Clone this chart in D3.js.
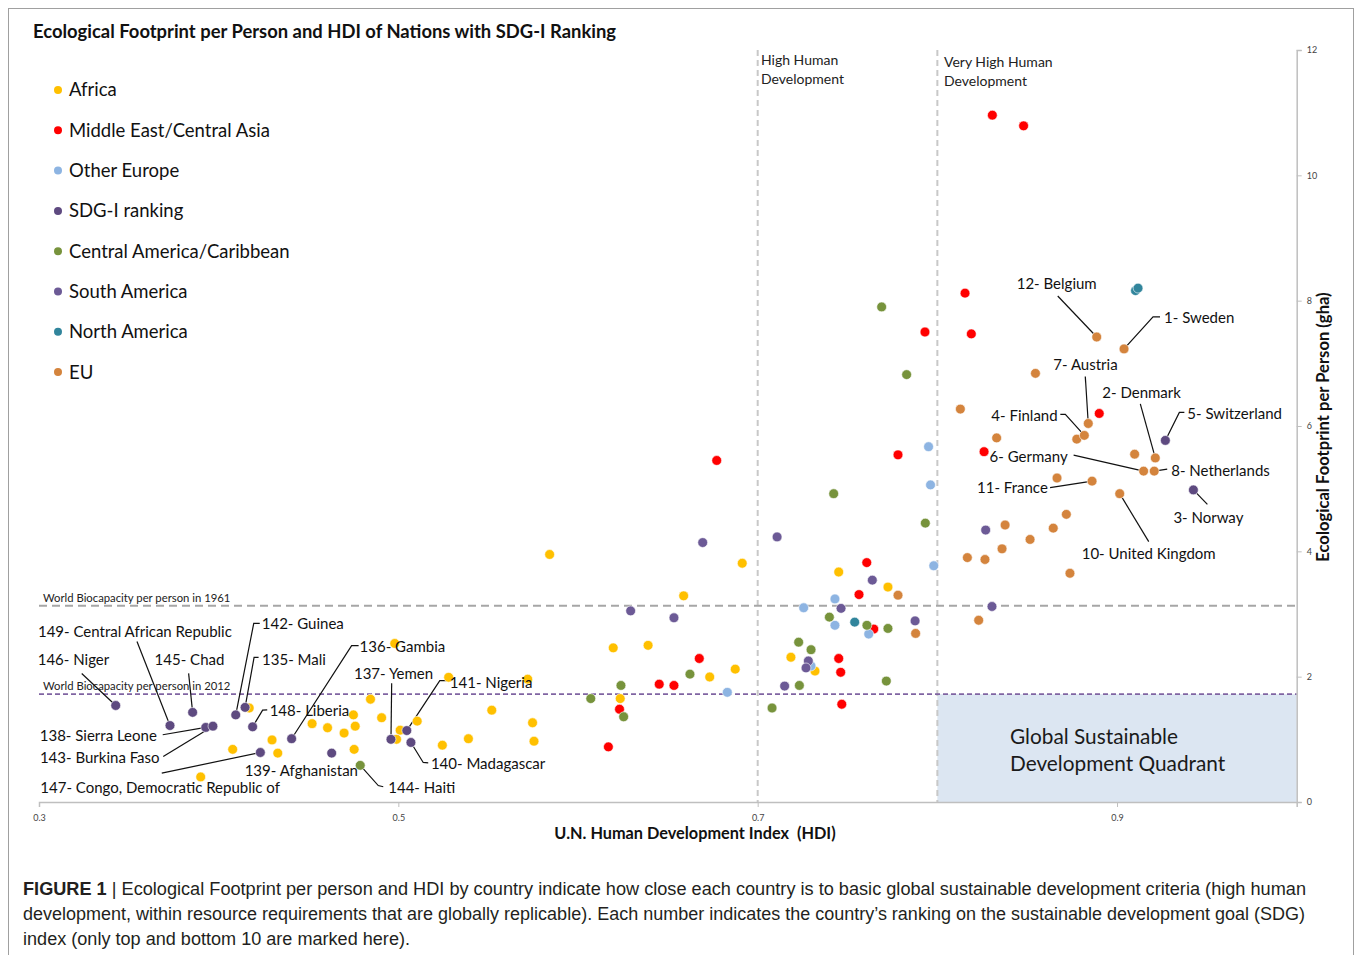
<!DOCTYPE html>
<html><head><meta charset="utf-8">
<script src="https://cdn.jsdelivr.net/npm/d3@7"></script>
<style>
body{margin:0;background:#fff;}
svg text{font-family:Lato,"Open Sans",sans-serif;}
</style></head>
<body><svg id="chart" width="1356" height="955"></svg>
<script>
// ---------- DATA ----------
const seriesNames = ["Africa","Middle East/Central Asia","Other Europe","SDG-I ranking","Central America/Caribbean","South America","North America","EU"];
const seriesColors = ["#FFC000","#FF0000","#8DB4E2","#5E4A80","#77933C","#6C5A96","#31859C","#D4843D"];

// [HDI, Ecological footprint gha]
const africa = [[0.417,1.50],[0.498,2.53],[0.4845,1.64],[0.528,1.99],[0.572,1.96],[0.475,1.39],[0.4907,1.345],[0.452,1.25],[0.4606,1.185],[0.476,1.21],[0.4698,1.10],[0.501,1.146],[0.5105,1.29],[0.499,1.00],[0.552,1.465],[0.4297,0.99],[0.4078,0.84],[0.4329,0.78],[0.4754,0.84],[0.5245,0.906],[0.539,1.01],[0.39,0.40],[0.5747,1.265],[0.5755,0.97],[0.5842,3.95],[0.6914,3.81],[0.6588,3.29],[0.6196,2.46],[0.639,2.50],[0.6733,1.995],[0.6875,2.12],[0.6235,1.65],[0.7185,2.31],[0.7319,2.09],[0.7451,3.67],[0.7725,3.43]];
const middleEast = [[0.6772,5.45],[0.6675,2.29],[0.6452,1.88],[0.6534,1.86],[0.6231,1.48],[0.6169,0.88],[0.7451,2.29],[0.7462,2.07],[0.7468,1.56],[0.7607,3.82],[0.7564,3.31],[0.7646,2.76],[0.7781,5.54],[0.7931,7.50],[0.8154,8.12],[0.8189,7.47],[0.8306,10.96],[0.848,10.79],[0.8901,6.20],[0.826,5.59]];
const otherEurope = [[0.6831,1.75],[0.7256,3.10],[0.743,3.24],[0.743,2.82],[0.7618,2.68],[0.7297,2.17],[0.7951,5.67],[0.7962,5.06],[0.798,3.77]];
const sdgRanked = [
  {name:"5- Switzerland",hdi:0.9269,ef:5.77},{name:"3- Norway",hdi:0.9425,ef:4.98},
  {name:"146- Niger",hdi:0.3427,ef:1.54},{name:"149- Central African Republic",hdi:0.3729,ef:1.22},
  {name:"145- Chad",hdi:0.3855,ef:1.43},{name:"138- Sierra Leone",hdi:0.3928,ef:1.19},
  {name:"143- Burkina Faso",hdi:0.3968,ef:1.21},{name:"142- Guinea",hdi:0.4095,ef:1.39},
  {name:"135- Mali",hdi:0.4147,ef:1.51},{name:"148- Liberia",hdi:0.4189,ef:1.20},
  {name:"147- Congo, Democratic Republic of",hdi:0.4232,ef:0.79},{name:"136- Gambia",hdi:0.4406,ef:1.01},
  {name:"139- Afghanistan",hdi:0.4629,ef:0.78},{name:"137- Yemen",hdi:0.4959,ef:1.00},
  {name:"141- Nigeria",hdi:0.5047,ef:1.14},{name:"140- Madagascar",hdi:0.507,ef:0.95}];
const centralAmerica = [[0.6623,2.04],[0.6239,1.86],[0.6071,1.65],[0.6254,1.36],[0.708,1.50],[0.7232,1.86],[0.7228,2.55],[0.7297,2.43],[0.7399,2.95],[0.7608,2.82],[0.7725,2.77],[0.7716,1.93],[0.7423,4.92],[0.769,7.90],[0.7829,6.82],[0.7933,4.45]];
const haiti = {name:"144- Haiti",hdi:0.4788,ef:0.585};
const southAmerica = [[0.6694,4.14],[0.7108,4.23],[0.6293,3.05],[0.6534,2.94],[0.7638,3.54],[0.7464,3.09],[0.7876,2.89],[0.7282,2.25],[0.7269,2.14],[0.715,1.85],[0.8269,4.34],[0.8304,3.12]];
const northAmerica = [[0.754,2.87],[0.9103,8.16],[0.9117,8.20]];
const euOther = [[0.7781,3.30],[0.7879,2.69],[0.823,2.90],[0.8738,3.65],[0.8167,3.90],[0.8265,3.87],[0.836,4.04],[0.8516,4.19],[0.8377,4.42],[0.8645,4.37],[0.8718,4.59],[0.8666,5.17],[0.9098,5.55],[0.833,5.81],[0.8776,5.79],[0.8128,6.27],[0.8546,6.84]];
const euRanked = [
  {name:"10- United Kingdom",hdi:0.9015,ef:4.92},{name:"11- France",hdi:0.8861,ef:5.12},
  {name:"6- Germany",hdi:0.9148,ef:5.28},{name:"8- Netherlands",hdi:0.9207,ef:5.28},
  {name:"2- Denmark",hdi:0.9213,ef:5.49},{name:"4- Finland",hdi:0.8818,ef:5.85},
  {name:"7- Austria",hdi:0.884,ef:6.04},{name:"12- Belgium",hdi:0.8887,ef:7.42},
  {name:"1- Sweden",hdi:0.9039,ef:7.23}];

const xTicks = [0.3,0.5,0.7,0.9];
const yTicks = [0,2,4,6,8,10,12];
const biocap1961 = 3.13, biocap2012 = 1.72;
const hdiHigh = 0.7, hdiVeryHigh = 0.8;

// label placement (pixel offsets from the point): text pos [dx,dy], leader vertices
const annotations = {
  "12- Belgium":[[-80,-53],[[-39,-41]]],
  "1- Sweden":[[40,-31],[[36,-32],[29,-32]]],
  "7- Austria":[[-35,-59],[[-3,-47]]],
  "4- Finland":[[-93,-20],[[-24,-21],[-19,-21]]],
  "2- Denmark":[[-53,-65],[[-15,-54]]],
  "5- Switzerland":[[22,-27],[[19,-28],[14,-28]]],
  "6- Germany":[[-154,-14],[[-70,-16]]],
  "8- Netherlands":[[17,0],[[13,-2]]],
  "11- France":[[-115,7],[[-42,6.5]]],
  "10- United Kingdom":[[-38,60],[[29,48]]],
  "3- Norway":[[-20,28],[[14,14.5]]],
  "149- Central African Republic":[[-132,-94],[[-33,-84]]],
  "146- Niger":[[-78,-46],[[-34,-32]]],
  "145- Chad":[[-38,-53],[[-4,-39]]],
  "142- Guinea":[[26,-91],[[24,-91.5],[18,-91.5]]],
  "135- Mali":[[17,-48],[[13.5,-50],[9,-50]]],
  "136- Gambia":[[68,-92],[[67,-93],[60,-93]]],
  "137- Yemen":[[-37,-66],[[0.7,-56]]],
  "141- Nigeria":[[43,-48],[[40,-50],[33,-50]]],
  "148- Liberia":[[17,-16],[[14.6,-17],[10,-16.7]]],
  "138- Sierra Leone":[[-166,8],[[-43,7.3]]],
  "143- Burkina Faso":[[-173,32],[[-49.7,30.4]]],
  "147- Congo, Democratic Republic of":[[-220,35],[[-98.6,20.6]]],
  "139- Afghanistan":[[-87,17.5],[]],
  "144- Haiti":[[28,22],[[23,21.4],[18,20.2]]],
  "140- Madagascar":[[20,21],[[17.3,20.4],[12.3,20]]]
};

// ---------- LAYOUT ----------
const svg = d3.select("#chart");
const x = d3.scaleLinear().domain([0.3,1.0]).range([39,1296.7]);
const y = d3.scaleLinear().domain([0,12]).range([802,50]);

// outer border
svg.append("rect").attr("x",8.5).attr("y",8.5).attr("width",1345).attr("height",970)
  .attr("fill","none").attr("stroke","#a0a0a0").attr("stroke-width",1);

// title
svg.append("text").attr("x",33).attr("y",38).attr("font-size",18).attr("font-weight","bold")
  .attr("fill","#111").attr("textLength",583).attr("lengthAdjust","spacingAndGlyphs")
  .text("Ecological Footprint per Person and HDI of Nations with SDG-I Ranking");

// quadrant
svg.append("rect").attr("x",x(hdiVeryHigh)).attr("y",y(biocap2012))
  .attr("width",x(1.0)-x(hdiVeryHigh)).attr("height",y(0)-y(biocap2012)).attr("fill","#DCE6F2");
svg.append("text").attr("x",1010).attr("y",737).attr("dy","0.35em").attr("font-size",20.8).attr("fill","#1a1a1a").text("Global Sustainable");
svg.append("text").attr("x",1010).attr("y",764).attr("dy","0.35em").attr("font-size",20.8).attr("fill","#1a1a1a").text("Development Quadrant");

// vertical HDI lines
[hdiHigh,hdiVeryHigh].forEach(v=>{
  svg.append("line").attr("x1",x(v)).attr("x2",x(v)).attr("y1",y(12)).attr("y2",y(0))
    .attr("stroke","#C8C8C8").attr("stroke-width",2).attr("stroke-dasharray","6,4");
});
const hh = [[761,60,"High Human"],[761,79,"Development"],[944,62,"Very High Human"],[944,81,"Development"]];
hh.forEach(t=>svg.append("text").attr("x",t[0]).attr("y",t[1]).attr("dy","0.35em").attr("font-size",14).attr("fill","#222").text(t[2]));

// horizontal biocapacity lines
svg.append("line").attr("x1",x(0.3)).attr("x2",x(1.0)).attr("y1",y(biocap1961)).attr("y2",y(biocap1961))
  .attr("stroke","#A6A6A6").attr("stroke-width",2).attr("stroke-dasharray","8,5");
svg.append("line").attr("x1",x(0.3)).attr("x2",x(1.0)).attr("y1",y(biocap2012)).attr("y2",y(biocap2012))
  .attr("stroke","#8064A2").attr("stroke-width",1.8).attr("stroke-dasharray","5,3");
svg.append("text").attr("x",43).attr("y",598).attr("dy","0.35em").attr("font-size",11.3).attr("fill","#222").text("World Biocapacity per person in 1961");
svg.append("text").attr("x",43).attr("y",686.5).attr("dy","0.35em").attr("font-size",11.3).attr("fill","#222").text("World Biocapacity per person in 2012");

// axes
const xAxis = d3.axisBottom(x).tickValues(xTicks).tickSize(5).tickFormat(d3.format(".1f"));
const gx = svg.append("g").attr("transform",`translate(0,${y(0)})`).call(xAxis);
gx.select(".domain").attr("stroke","#BFBFBF").attr("stroke-width",1.5);
gx.selectAll(".tick line").attr("stroke","#BFBFBF");
gx.selectAll(".tick text").attr("font-size",9).attr("fill","#444").attr("dy","1.2em");

const yAxis = d3.axisRight(y).tickValues(yTicks).tickSize(5).tickFormat(d3.format("d"));
const gy = svg.append("g").attr("transform",`translate(${x(1.0)},0)`).call(yAxis);
gy.select(".domain").attr("stroke","#BFBFBF").attr("stroke-width",1.5);
gy.selectAll(".tick line").attr("stroke","#BFBFBF");
gy.selectAll(".tick text").attr("font-size",9).attr("fill","#444").attr("x",10);

svg.append("text").attr("x",695).attr("y",833).attr("dy","0.35em").attr("text-anchor","middle")
  .style("white-space","pre").attr("font-size",16.3).attr("font-weight","bold").attr("fill","#111")
  .text("U.N. Human Development Index  (HDI)");
svg.append("text").attr("transform","translate(1323,427) rotate(-90)").attr("dy","0.35em").attr("text-anchor","middle")
  .attr("font-size",16.6).attr("font-weight","bold").attr("fill","#111").text("Ecological Footprint per Person (gha)");

// legend
const lg = svg.append("g");
seriesNames.forEach((n,i)=>{
  const cy = 90 + i*40.3;
  lg.append("circle").attr("cx",58).attr("cy",cy).attr("r",4).attr("fill",seriesColors[i]);
  lg.append("text").attr("x",69).attr("y",cy).attr("dy","0.35em").attr("font-size",18.5).attr("fill","#111").text(n);
});

// leaders
const labelled = [...euRanked, ...sdgRanked, haiti];
const leaderG = svg.append("g");
const labelG = svg.append("g");
labelled.forEach(d=>{
  const a = annotations[d.name]; if(!a) return;
  const px = x(d.hdi), py = y(d.ef);
  if(a[1].length){
    const pts = a[1].map(p=>[px+p[0],py+p[1]]).concat([[px,py]]);
    leaderG.append("path").attr("d",d3.line()(pts)).attr("fill","none").attr("stroke","#111").attr("stroke-width",1.2);
  }
  labelG.append("text").attr("x",px+a[0][0]).attr("y",py+a[0][1]).attr("dy","0.35em")
    .attr("font-size",15).attr("fill","#111").text(d.name);
});

// points
const toObj = arr => arr.map(p=>({hdi:p[0],ef:p[1]}));
const groups = [
  [toObj(africa),0],[toObj(middleEast),1],[toObj(otherEurope),2],
  [sdgRanked,3],[toObj(centralAmerica).concat([haiti]),4],[toObj(southAmerica),5],
  [toObj(northAmerica),6],[toObj(euOther).concat(euRanked),7]];
const ptsG = svg.insert("g", () => labelG.node());
groups.forEach(([data,ci])=>{
  ptsG.append("g").selectAll("circle").data(data).join("circle")
    .attr("cx",d=>x(d.hdi)).attr("cy",d=>y(d.ef)).attr("r",4.9)
    .attr("fill",seriesColors[ci]).attr("stroke","#fff").attr("stroke-width",0.6);
});

// caption
const cap = svg.append("g").attr("fill","#231F20");
const c1 = cap.append("text").attr("x",23).attr("y",895).attr("font-size",17.5).style("font-family","'Liberation Sans',Arial,sans-serif")
  .attr("textLength",1283).attr("lengthAdjust","spacingAndGlyphs");
c1.append("tspan").attr("font-weight","bold").text("FIGURE 1");
c1.append("tspan").text(" | Ecological Footprint per person and HDI by country indicate how close each country is to basic global sustainable development criteria (high human");
cap.append("text").attr("x",23).attr("y",920).attr("font-size",17.5).style("font-family","'Liberation Sans',Arial,sans-serif")
  .attr("textLength",1282).attr("lengthAdjust","spacingAndGlyphs")
  .text("development, within resource requirements that are globally replicable). Each number indicates the country\u2019s ranking on the sustainable development goal (SDG)");
cap.append("text").attr("x",23).attr("y",945).attr("font-size",17.5).style("font-family","'Liberation Sans',Arial,sans-serif")
  .attr("textLength",387).attr("lengthAdjust","spacingAndGlyphs")
  .text("index (only top and bottom 10 are marked here).");
</script></body></html>
